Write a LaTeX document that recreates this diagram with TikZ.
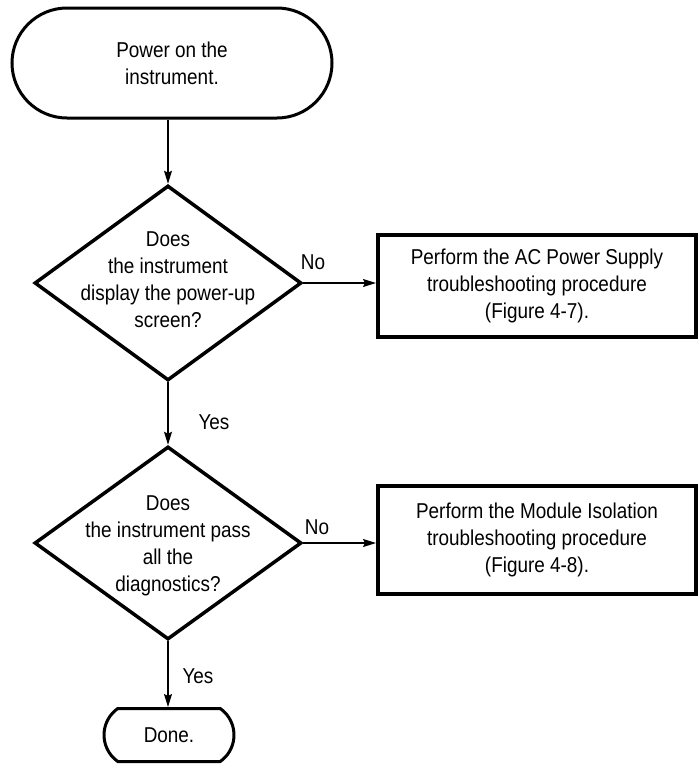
\documentclass[tikz,border=0pt]{standalone}
\usepackage{fontspec}
\setmainfont{Liberation Sans}[FakeStretch=0.88]
\usetikzlibrary{shapes.geometric,shapes.misc,arrows.meta}

\begin{document}
\begin{tikzpicture}[x=1pt,y=-1pt,
        txt/.style={font=\fontsize{21.5pt}{27pt}\selectfont, align=center, inner sep=0pt},
        terminal/.style={txt, rounded rectangle, draw, line width=3pt},
        decision/.style={diamond, draw, line width=3.5pt, inner sep=0pt, minimum width=267pt, minimum height=195pt},
        procbox/.style={txt, rectangle, draw, line width=4pt, minimum width=318pt},
        flow/.style={-{Stealth[length=13pt,width=8pt,inset=2pt]}, line width=1.2pt}]
    \useasboundingbox (0,0) rectangle (697,764);

    % Start
    \node[terminal, minimum width=320pt, minimum height=110pt] (S) at (172,63) {Power on the\\instrument.};

    % First question
    \node[decision] (Q1) at (168,283) {};
    \node[txt] (Q1t) at (168,280) {Does\\the instrument\\display the power-up\\screen?};
    \node[procbox, minimum height=102pt] (P1) at (537,286) {Perform the AC Power Supply\\troubleshooting procedure\\(Figure 4-7).};

    % Second question
    \node[decision, minimum height=193pt] (Q2) at (168,543) {};
    \node[txt] (Q2t) at (168,546) {Does\\the instrument pass\\all the\\diagnostics?};
    \node[procbox, minimum height=108pt] (P2) at (537,540) {Perform the Module Isolation\\troubleshooting procedure\\(Figure 4-8).};

    % End
    \node[terminal, rounded rectangle arc length=110, minimum width=130pt, minimum height=53pt] (E) at (169,735) {Done.};

    % Connections
    \draw[flow] (S.south -| Q1.north) -- (Q1.north);
    \draw[flow] (Q1.east) -- (Q1.east -| P1.west);
    \draw[flow] (Q1.south) -- (Q2.north);
    \draw[flow] (Q2.east) -- (Q2.east -| P2.west);
    \draw[flow] (Q2.south) -- (Q2.south |- E.north);

    % Labels
    \node[txt] (No1) at (313,262) {No};
    \node[txt] (Yes1) at (214,422) {Yes};
    \node[txt] (No2) at (317,527) {No};
    \node[txt] (Yes2) at (198,676) {Yes};
\end{tikzpicture}
\end{document}
